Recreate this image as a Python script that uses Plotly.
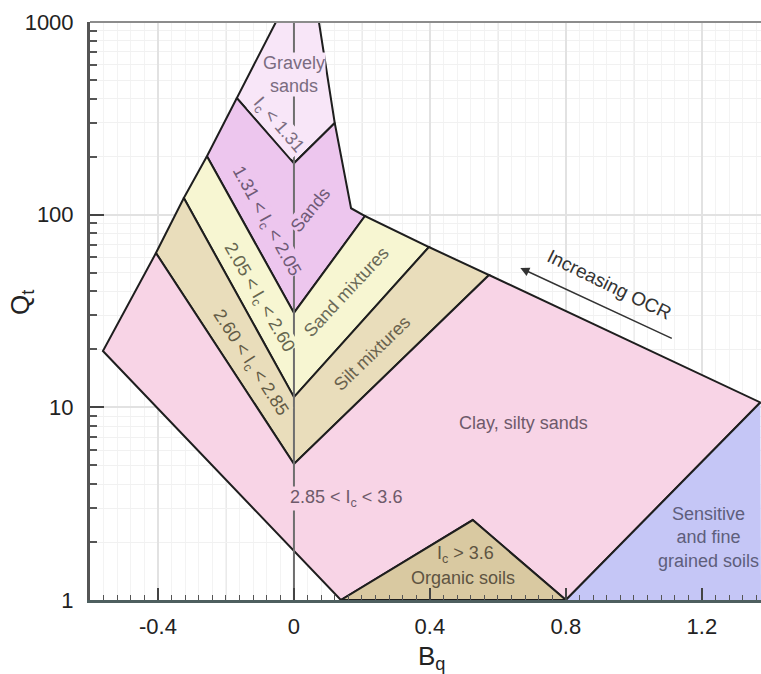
import numpy as np
import plotly.graph_objects as go

# ---- Soil behaviour type zones in the Bq - Qt plane (vertices: Bq, Qt) ----
gravely_bq = [-0.053, 0.0735, 0.12, 0.0, -0.168]
gravely_qt = [1000, 1000, 299, 185, 403]

sands_bq = [-0.168, 0.0, 0.12, 0.168, 0.209, 0.0, -0.256]
sands_qt = [403, 185, 299, 108, 98.4, 30.9, 201]

sandmix_bq = [-0.256, 0.0, 0.209, 0.397, 0.0, -0.324]
sandmix_qt = [201, 30.9, 98.4, 67.9, 11.3, 122]

siltmix_bq = [-0.324, 0.0, 0.397, 0.574, 0.0, -0.406]
siltmix_qt = [122, 11.3, 67.9, 48.6, 5.08, 63.2]

clay_bq = [-0.406, 0.0, 0.574, 1.372, 0.8, 0.526, 0.138, -0.562]
clay_qt = [63.2, 5.08, 48.6, 10.6, 1, 2.6, 1, 19.6]

organic_bq = [0.138, 0.526, 0.8]
organic_qt = [1, 2.6, 1]

X_RANGE = [-0.6, 1.374]
sensitive_bq = [0.8, 1.372, X_RANGE[1]]
sensitive_qt = [1, 10.6, 1]

x_ticks = [-0.4, 0, 0.4, 0.8, 1.2]
x_ticktext = ["-0.4", "0", "0.4", "0.8", "1.2"]
x_mid_grid = [-0.2, 0.2, 0.6, 1.0]
y_ticks = [1, 10, 100, 1000]
y_ticktext = ["1", "10", "100", "1000"]
y_minor = [m * 10 ** d for d in range(3) for m in range(2, 10)]

FONT = "Arial, Liberation Sans, sans-serif"
EDGE = "#1e1e1e"

zones = [
    (gravely_bq, gravely_qt, "#f8e6f8", True),
    (sands_bq, sands_qt, "#edc6ee", True),
    (sandmix_bq, sandmix_qt, "#f7f6d2", True),
    (siltmix_bq, siltmix_qt, "#e9ddbb", True),
    (clay_bq, clay_qt, "#f8d4e6", True),
    (organic_bq, organic_qt, "#d9c9a1", True),
    (sensitive_bq, sensitive_qt, "#c5c6f6", False),
]

fig = go.Figure()
for bq, qt, color, outline in zones:
    fig.add_trace(go.Scatter(
        x=bq + [bq[0]], y=qt + [qt[0]], mode="lines", fill="toself",
        fillcolor=color,
        line=dict(color=EDGE if outline else "rgba(0,0,0,0)", width=2 if outline else 0),
        hoverinfo="skip", showlegend=False,
    ))
# redraw the sensitive-soil boundary on top
fig.add_trace(go.Scatter(x=sensitive_bq[:2], y=sensitive_qt[:2], mode="lines",
                         line=dict(color=EDGE, width=2), hoverinfo="skip", showlegend=False))

# Bq = 0 reference line
fig.add_trace(go.Scatter(x=[0, 0], y=[1, 1000], mode="lines",
                         line=dict(color="#6e6e6e", width=2),
                         hoverinfo="skip", showlegend=False))


def label(text, x, logy, angle=0, color="#6e5e72", bg=None, size=18):
    fig.add_annotation(
        x=x, y=logy, xref="x", yref="y", text=text, showarrow=False,
        xanchor="center", yanchor="middle",
        textangle=angle, font=dict(family=FONT, size=size, color=color),
        bgcolor=bg if bg else "rgba(0,0,0,0)", borderpad=0,
    )


label("Gravely<br>sands", 0.0, 2.73, 0, "#7a6c80", "#f8e6f8")
label("I<sub>c</sub> < 1.31", -0.046, 2.465, 49, "#7a6c80", "#f8e6f8")
label("1.31 < I<sub>c</sub> < 2.05", -0.084, 1.962, 61, "#6f5a76", "#edc6ee")
label("Sands", 0.048, 2.024, -51, "#6f5a76", "#edc6ee")
label("2.05 < I<sub>c</sub> < 2.60", -0.104, 1.572, 60, "#66664f", "#f7f6d2")
label("2.60 < I<sub>c</sub> < 2.85", -0.128, 1.230, 57, "#625a45", "#e9ddbb")
label("Sand mixtures", 0.154, 1.598, -47, "#6a6a58")
label("Silt mixtures", 0.231, 1.282, -44, "#6a624e")
label("Clay, silty sands", 0.675, 0.918, 0, "#6e5a6a")
label("2.85 < I<sub>c</sub> < 3.6", 0.153, 0.529, 0, "#6e5a6a", "#f8d4e6")
label("I<sub>c</sub> > 3.6", 0.504, 0.234, 0, "#5e5442")
label("Organic soils", 0.496, 0.115, 0, "#5e5442")
label("Sensitive<br>and fine<br>grained soils", 1.219, 0.327, 0, "#5e5e7c")
label("Increasing OCR", 0.928, 1.640, 26, "#333333", size=19)

# OCR arrow
fig.add_annotation(
    x=0.666, y=1.723, ax=1.116, ay=1.354, xref="x", yref="y", axref="x", ayref="y",
    text="", showarrow=True, arrowhead=2, arrowsize=1.2, arrowwidth=1.5,
    arrowcolor="#333333",
)

W, H = 761, 674
ML, MR, MT, MB = 90, 0, 22, 74
pw, ph = W - ML - MR, H - MT - MB

# axis titles, placed by pixel position
for text, px, py, ang in [("Q<sub>t</sub>", 21, 303, -90), ("B<sub>q</sub>", 431, 657, 0)]:
    fig.add_annotation(x=(px - ML) / pw, y=(H - MB - py) / ph, xref="paper", yref="paper",
                       xanchor="center", yanchor="middle", text=text, showarrow=False,
                       textangle=ang, font=dict(family=FONT, size=26, color="#222222"))

# intermediate vertical grid lines and top frame
shapes = [dict(type="line", xref="x", yref="paper", x0=g, x1=g, y0=0, y1=1,
               layer="below", line=dict(color="#e2e2e2", width=1.5)) for g in x_mid_grid]
shapes.append(dict(type="line", xref="paper", yref="paper", x0=0, x1=1, y0=1, y1=1,
                   line=dict(color="#8c8c8c", width=2)))

fig.update_layout(
    width=W, height=H,
    margin=dict(l=ML, r=MR, t=MT, b=MB),
    paper_bgcolor="white", plot_bgcolor="white",
    shapes=shapes,
    xaxis=dict(
        range=X_RANGE, tickvals=x_ticks, ticktext=x_ticktext,
        ticks="inside", ticklen=12, tickwidth=2, tickcolor="#444444",
        showline=True, linecolor="#4e5f5f", linewidth=3,
        showgrid=True, gridcolor="#e2e2e2", gridwidth=1.5, zeroline=False,
        tickfont=dict(family=FONT, size=22, color="#222222"),
        ticklabelstandoff=5,
        minor=dict(dtick=0.04, tick0=0, ticks="inside", ticklen=5, tickwidth=1,
                   tickcolor="#555555", showgrid=True, gridcolor="#f3f3f3", gridwidth=1),
    ),
    yaxis=dict(
        type="log", range=[0, 3], tickvals=y_ticks, ticktext=y_ticktext,
        ticks="inside", ticklen=14, tickwidth=2, tickcolor="#444444",
        showline=True, linecolor="#555555", linewidth=3,
        showgrid=True, gridcolor="#e2e2e2", gridwidth=1.5, zeroline=False,
        tickfont=dict(family=FONT, size=22, color="#222222"),
        ticklabelstandoff=9,
        minor=dict(tickvals=y_minor, ticks="inside", ticklen=7, tickwidth=1.5,
                   tickcolor="#555555", showgrid=True, gridcolor="#f1f1f1", gridwidth=1),
    ),
)

fig.write_html("out.html")
